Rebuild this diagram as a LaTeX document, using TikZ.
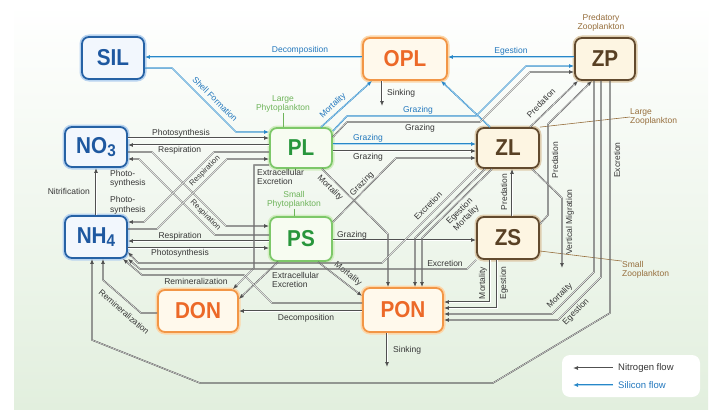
\documentclass[tikz,border=0pt]{standalone}
\usepackage{fontspec}
\setmainfont{Liberation Sans}
\newfontfamily\boxfont{Liberation Sans}[FakeStretch=0.9]
\usetikzlibrary{arrows.meta}
\definecolor{bgG}{RGB}{226,239,222}
\definecolor{nL}{RGB}{80,80,80}
\definecolor{sL}{RGB}{40,135,200}
\definecolor{sLc}{RGB}{175,215,240}
\definecolor{nT}{RGB}{55,55,55}
\definecolor{sT}{RGB}{35,120,190}
\definecolor{bluB}{RGB}{38,98,165}
\definecolor{bluF}{RGB}{242,247,253}
\definecolor{bluG}{RGB}{185,212,240}
\definecolor{bluT}{RGB}{30,88,160}
\definecolor{orB}{RGB}{242,150,70}
\definecolor{orF}{RGB}{255,249,236}
\definecolor{orG}{RGB}{252,215,170}
\definecolor{orT}{RGB}{236,105,40}
\definecolor{grB}{RGB}{125,200,105}
\definecolor{grF}{RGB}{247,252,241}
\definecolor{grG}{RGB}{212,238,196}
\definecolor{grT}{RGB}{40,150,60}
\definecolor{grL}{RGB}{110,180,90}
\definecolor{brB}{RGB}{98,74,46}
\definecolor{brF}{RGB}{253,245,226}
\definecolor{brG}{RGB}{222,205,175}
\definecolor{brT}{RGB}{88,64,36}
\definecolor{brL}{RGB}{150,110,60}
\begin{document}
\begin{tikzpicture}[x=1pt,y=-1pt,
  box/.style={rounded corners=7pt, line width=1.8pt, inner sep=0pt, font=\boxfont\bfseries\fontsize{23}{23}\selectfont},
  bluebox/.style={box, draw=bluB, fill=bluF, text=bluT, preaction={draw=bluG, line width=5pt}},
  orbox/.style={box, draw=orB, fill=orF, text=orT, preaction={draw=orG, line width=5pt}},
  grbox/.style={box, draw=grB, fill=grF, text=grT, preaction={draw=grG, line width=5pt}},
  brbox/.style={box, draw=brB, fill=brF, text=brT, preaction={draw=brG, line width=5pt}},
  nflow/.style={draw=nL, line width=1.4pt, -{Latex[length=5pt,width=4pt]}, postaction={draw=white, line width=0.4pt, arrows=-, shorten >=5pt}},
  sflow/.style={draw=sL, line width=1.4pt, -{Latex[length=5pt,width=4pt]}, postaction={draw=sLc, line width=0.5pt, arrows=-, shorten >=5pt}},
  lab/.style={font=\fontsize{8.5}{9.5}\selectfont, inner sep=0pt, align=center},
  rlab/.style={font=\fontsize{7.8}{9}\selectfont, inner sep=0pt, align=center},
  nlab/.style={lab, text=nT},
  slab/.style={lab, text=sT},
  grlab/.style={lab, text=grL},
  brlab/.style={lab, text=brL},
  leader/.style={line width=0.6pt}
]
\useasboundingbox (0,0) rectangle (712,412);
\fill[white] (0,0) rectangle (712,412);
\shade[top color=white, bottom color=bgG] (14,4) rectangle (708,409);

% ---------- nodes ----------
\node[bluebox, minimum width=62pt, minimum height=42pt] (SIL) at (113,58) {SIL};
\node[orbox, minimum width=84pt, minimum height=42pt] (OPL) at (405,59) {OPL};
\node[brbox, minimum width=60pt, minimum height=42pt] (ZP) at (605,59) {ZP};
\node[bluebox, minimum width=62pt, minimum height=40pt] (NO3) at (96,147) {NO\raisebox{-3pt}{\fontsize{17}{17}\selectfont 3}};
\node[bluebox, minimum width=62pt, minimum height=42pt] (NH4) at (96,237) {NH\raisebox{-3pt}{\fontsize{17}{17}\selectfont 4}};
\node[grbox, minimum width=62pt, minimum height=40pt] (PL) at (301,148) {PL};
\node[grbox, minimum width=62pt, minimum height=44pt] (PS) at (301,239) {PS};
\node[brbox, minimum width=62pt, minimum height=40pt] (ZL) at (508,148) {ZL};
\node[brbox, minimum width=62pt, minimum height=42pt] (ZS) at (508,238) {ZS};
\node[orbox, minimum width=80pt, minimum height=42pt] (DON) at (198,311) {DON};
\node[orbox, minimum width=80pt, minimum height=44pt] (PON) at (403,310) {PON};

% group labels
\node[brlab] (pz) at (601,23) {Predatory\\Zooplankton};
\node[grlab] (lp) at (283,104) {Large\\Phytoplankton};
\draw[grL, leader] (lp.south) -- (lp.south |- PL.north);
\node[grlab] (sp) at (294,200) {Small\\Phytoplankton};
\draw[grL, leader] (sp.south) -- (sp.south |- PS.north);
\node[brlab, anchor=west, align=left] (lz) at (630,117) {Large\\Zooplankton};
\draw[brL, leader] (ZL.north east) -- (lz.west);
\node[brlab, anchor=west, align=left] (sz) at (622,270) {Small\\Zooplankton};
\draw[brL, leader] (ZS.east |- 0,251) -- (sz.north west);

% ---------- silicon flows ----------
\draw[sflow] (OPL.west |- 0,57) -- (SIL.east |- 0,57);
\node[slab] (t1) at (300,50) {Decomposition};
\draw[sflow] (SIL.east |- 0,68) -- (172,68) -- (236,132) -- (PL.west |- 0,132);
\node[slab, rotate=-45] (t2) at (215,99) {Shell Formation};
\draw[sflow] ([xshift=20pt]PL.north) -- ([xshift=-33pt]OPL.south);
\node[slab, rotate=43] (t3) at (333,106) {Mortality};
\draw[sflow] (ZP.west |- 0,57) -- (OPL.east |- 0,57);
\node[slab] (t4) at (511,51) {Egestion};
\draw[sflow] ([xshift=-18pt]ZL.north) -- ([xshift=36pt]OPL.south);
\draw[sflow] (PL.east |- 0,131) -- (347,116) -- (476,116) -- (526,66) -- (ZP.west |- 0,66);
\node[slab] (t5) at (418,110) {Grazing};
\draw[sflow] (PL.east |- 0,144) -- (ZL.west |- 0,144);
\node[slab] (t6) at (368,138) {Grazing};

% ---------- grazing (nitrogen) ----------
\draw[nflow] (PL.east |- 0,137) -- (347,122) -- (480,122) -- (530,72) -- (ZP.west |- 0,72);
\node[nlab] (t7) at (420,128.5) {Grazing};
\draw[nflow] (PL.east |- 0,151) -- (ZL.west |- 0,151);
\node[nlab] (t8) at (368,157.5) {Grazing};
\draw[nflow] (PS.east |- 0,222) -- (396,158) -- (ZL.west |- 0,158);
\node[nlab, rotate=45] (t9) at (362,184) {Grazing};
\draw[nflow] (PS.east |- 0,240) -- (ZS.west |- 0,240);
\node[nlab] (t10) at (352,235) {Grazing};

% ---------- nutrients <-> phytoplankton ----------
\draw[nflow] (NO3.east |- 0,138) -- (PL.west |- 0,138);
\node[nlab] (t11) at (181,133) {Photosynthesis};
\draw[nflow] (PL.west |- 0,145) -- (NO3.east |- 0,145);
\node[nlab, anchor=west] (t12) at (158,150.5) {Respiration};
\draw[nflow] (NO3.east |- 0,152) -- (152,152) -- (226,226) -- (PS.west |- 0,226);
\draw[nflow] (PS.west |- 0,235) -- (215,235) -- (139,159) -- (NO3.east |- 0,159);
\draw[nflow] (PL.west |- 0,152) -- (214,152) -- (144,222) -- (NH4.east |- 0,222);
\draw[nflow] (NH4.east |- 0,229) -- (157,229) -- (227,159) -- (PL.west |- 0,159);
\node[nlab, anchor=north west, align=left] (t13) at (110,170) {Photo-\\synthesis};
\node[nlab, anchor=south west, align=left] (t14) at (110,214) {Photo-\\synthesis};
\node[rlab, text=nT, rotate=45] (t15) at (205,171) {Respiration};
\node[rlab, text=nT, rotate=-45] (t16) at (205.5,215.5) {Respiration};
\draw[nflow] (PS.west |- 0,241) -- (NH4.east |- 0,241);
\node[nlab] (t17) at (180,236) {Respiration};
\draw[nflow] (NH4.east |- 0,248) -- (PS.west |- 0,248);
\node[nlab] (t18) at (180,253.5) {Photosynthesis};
\draw[nflow] (NH4.north) -- (NO3.south);
\node[nlab, anchor=east] (t19) at (90,191) {Nitrification};

% ---------- DON / PON ----------
\draw[nflow] (PL.west |- 0,165) -- (254,165) -- (254,268) -- ([xshift=-6pt]DON.north east);
\node[nlab, anchor=north west, align=left] (t20) at (257,169) {Extracellular\\Excretion};
\draw[nflow] ([xshift=-23pt]PS.south) -- (DON.east |- 0,299);
\node[nlab, anchor=north west, align=left] (t21) at (272,272) {Extracellular\\Excretion};
\draw[nflow] (PON.west |- 0,303) -- (272,303) -- (244,275) -- (142,275) -- ([xshift=-5pt]NH4.south east);
\node[nlab] (t22) at (196,281) {Remineralization};
\draw[nflow] (PON.west |- 0,311) -- (DON.east |- 0,311);
\node[nlab] (t23) at (306,318.5) {Decomposition};
\draw[nflow] (DON.west |- 0,313) -- (141,313) -- (103,280) -- (NH4.south -| 103,0);
\node[nlab, rotate=-41] (t24) at (124,312) {Remineralization};
\draw[nflow] ([xshift=21pt]PL.south) -- (388,234) -- (PON.north -| 388,0);
\node[nlab, rotate=-45] (t25) at (330,188) {Mortality};
\draw[nflow] ([xshift=17pt]PS.south) -- (PON.west |- 0,296);
\node[nlab, rotate=-38] (t26) at (348,274) {Mortality};
\coordinate (oplsk) at (382,106);
\draw[nflow] (OPL.south -| oplsk) -- (oplsk);
\node[nlab, anchor=west] (t27) at (387,93) {Sinking};
\coordinate (ponsk) at (387,367);
\draw[nflow] (PON.south -| ponsk) -- (ponsk);
\node[nlab, anchor=west] (t28) at (393,350) {Sinking};

% ---------- zooplankton ----------
\draw[nflow] (ZL.south west) -- (382,263) -- (138,263) -- (NH4.east |- 0,252);
\node[nlab, rotate=45] (t29) at (428,206) {Excretion};
\draw[nflow] (ZL.south -| 485,0) -- (415,238) -- (PON.north -| 415,0);
\draw[nflow] (ZL.south -| 492,0) -- (422,238) -- (PON.north -| 422,0);
\node[nlab, rotate=45] (t30) at (463,215) {Egestion\\Mortality};
\draw[nflow] (ZS.south west) -- (467,269) -- (140,269) -- (NH4.south east);
\node[nlab] (t31) at (445,263) {Excretion};
\draw[nflow] (ZS.north -| 512,0) -- (ZL.south -| 512,0);
\node[nlab, rotate=90] (t32) at (504,192) {Predation};
\draw[nflow] (ZL.north -| 530,0) -- (ZP.south -| 578,0);
\node[nlab, rotate=45] (t33) at (541,103) {Predation};
\draw[nflow] (ZS.east |- 0,224) -- (548,215) -- (548,124) -- (ZP.south -| 592,0);
\node[nlab, rotate=90] (t34) at (555,160) {Predation};
\coordinate (vm) at (562,268);
\draw[nflow] (ZL.south -| 532,0) -- (562,198) -- (vm);
\node[nlab, rotate=90] (t35) at (570,222) {Vertical Migration};
\draw[nflow] (ZS.south -| 490,0) -- (490,302) -- (PON.east |- 0,302);
\node[nlab, rotate=90] (t36) at (483,283) {Mortality};
\draw[nflow] (ZS.south -| 497,0) -- (497,308) -- (PON.east |- 0,308);
\node[nlab, rotate=90] (t37) at (504,283) {Egestion};
\draw[nflow] (ZP.south -| 594,0) -- (594,272) -- (552,314) -- (PON.east |- 0,314);
\node[nlab, rotate=45] (t38) at (560,296) {Mortality};
\draw[nflow] (ZP.south -| 601,0) -- (601,277) -- (558,320) -- (PON.east |- 0,320);
\node[nlab, rotate=45] (t39) at (576,312) {Egestion};
\draw[nflow] (ZP.south -| 610,0) -- (610,313) -- (493,383) -- (200,383) -- (92,340) -- (NH4.south -| 92,0);
\node[nlab, rotate=90] (t40) at (617,160) {Excretion};

% ---------- legend ----------
\node[fill=white, rounded corners=8pt, minimum width=138pt, minimum height=42pt, inner sep=0pt] (leg) at (631,376) {};
\node[nlab, anchor=west, font=\fontsize{9.5}{10}\selectfont] (legN) at (618,368) {Nitrogen flow};
\node[slab, anchor=west, font=\fontsize{9.5}{10}\selectfont] (legS) at (618,385) {Silicon flow};
\draw[nflow] ([xshift=-5pt]legN.west) -- ++(-40,0);
\draw[sflow] ([xshift=-5pt]legS.west) -- ++(-40,0);
\end{tikzpicture}
\end{document}
